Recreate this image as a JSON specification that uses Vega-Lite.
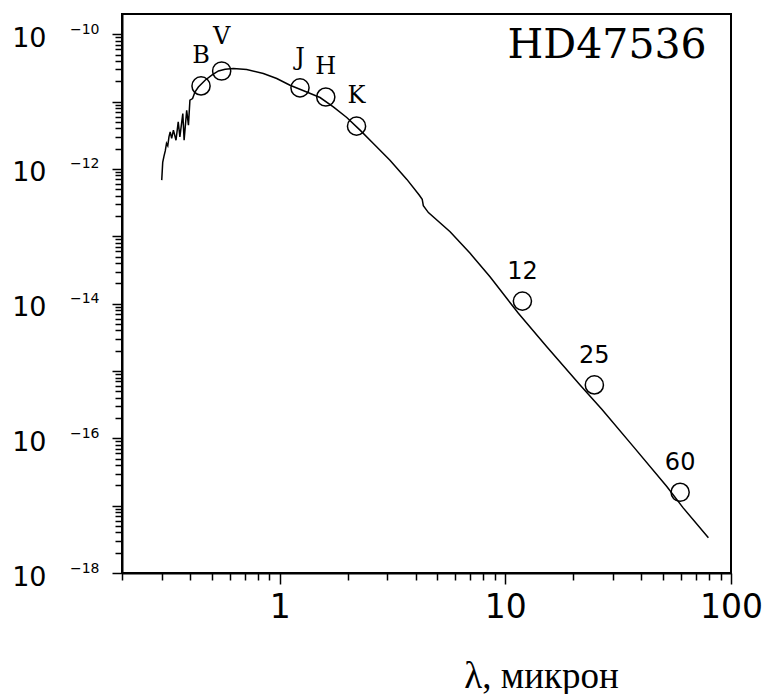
{
  "$schema": "https://vega.github.io/schema/vega-lite/v6.json",
  "autosize": {"type": "none"},
  "width": 609,
  "height": 559,
  "padding": {"left": 122, "top": 14, "right": 34, "bottom": 121},
  "background": "white",
  "config": {
    "view": {"stroke": "black", "strokeWidth": 2},
    "axis": {"grid": false, "tickColor": "black", "domainColor": "black", "labelColor": "black", "titleColor": "black", "labelOverlap": false, "labelFlush": false}
  },
  "datasets": {
    "model": [
      {"lambda": 0.300, "flux": 6.83e-13},
      {"lambda": 0.303, "flux": 1.25e-12},
      {"lambda": 0.307, "flux": 1.55e-12},
      {"lambda": 0.311, "flux": 1.85e-12},
      {"lambda": 0.315, "flux": 2.39e-12},
      {"lambda": 0.319, "flux": 2.2e-12},
      {"lambda": 0.323, "flux": 3.0e-12},
      {"lambda": 0.327, "flux": 3.55e-12},
      {"lambda": 0.332, "flux": 2.84e-12},
      {"lambda": 0.338, "flux": 3.77e-12},
      {"lambda": 0.347, "flux": 2.67e-12},
      {"lambda": 0.355, "flux": 5.0e-12},
      {"lambda": 0.361, "flux": 2.99e-12},
      {"lambda": 0.372, "flux": 6.65e-12},
      {"lambda": 0.377, "flux": 2.67e-12},
      {"lambda": 0.387, "flux": 7.45e-12},
      {"lambda": 0.394, "flux": 4.47e-12},
      {"lambda": 0.400, "flux": 1.05e-11},
      {"lambda": 0.411, "flux": 1.11e-11},
      {"lambda": 0.421, "flux": 1.39e-11},
      {"lambda": 0.436, "flux": 1.65e-11},
      {"lambda": 0.467, "flux": 2.08e-11},
      {"lambda": 0.500, "flux": 2.47e-11},
      {"lambda": 0.535, "flux": 2.85e-11},
      {"lambda": 0.573, "flux": 3.03e-11},
      {"lambda": 0.623, "flux": 3.10e-11},
      {"lambda": 0.714, "flux": 2.99e-11},
      {"lambda": 0.846, "flux": 2.61e-11},
      {"lambda": 0.970, "flux": 2.20e-11},
      {"lambda": 1.111, "flux": 1.75e-11},
      {"lambda": 1.317, "flux": 1.39e-11},
      {"lambda": 1.509, "flux": 1.15e-11},
      {"lambda": 1.728, "flux": 8.34e-12},
      {"lambda": 1.982, "flux": 5.81e-12},
      {"lambda": 2.27, "flux": 3.77e-12},
      {"lambda": 2.60, "flux": 2.39e-12},
      {"lambda": 3.08, "flux": 1.35e-12},
      {"lambda": 3.66, "flux": 7.0e-13},
      {"lambda": 4.15, "flux": 4.1e-13},
      {"lambda": 4.28, "flux": 3.55e-13},
      {"lambda": 4.33, "flux": 2.85e-13},
      {"lambda": 4.56, "flux": 2.25e-13},
      {"lambda": 5.69, "flux": 1.17e-13},
      {"lambda": 6.98, "flux": 5.58e-14},
      {"lambda": 8.55, "flux": 2.51e-14},
      {"lambda": 11.42, "flux": 7.18e-15},
      {"lambda": 15.26, "flux": 2.29e-15},
      {"lambda": 21.43, "flux": 6.19e-16},
      {"lambda": 26.76, "flux": 2.70e-16},
      {"lambda": 36.93, "flux": 7.53e-17},
      {"lambda": 51.94, "flux": 1.92e-17},
      {"lambda": 61.5, "flux": 9.19e-18},
      {"lambda": 79.4, "flux": 3.33e-18}
    ],
    "phot": [
      {"band": "B", "kind": "letter", "lambda": 0.448, "flux": 1.71e-11},
      {"band": "V", "kind": "top", "lambda": 0.553, "flux": 2.85e-11},
      {"band": "J", "kind": "letter", "lambda": 1.23, "flux": 1.60e-11},
      {"band": "H", "kind": "letter", "lambda": 1.60, "flux": 1.17e-11},
      {"band": "K", "kind": "letter", "lambda": 2.19, "flux": 4.32e-12},
      {"band": "12", "kind": "number", "lambda": 11.9, "flux": 1.09e-14},
      {"band": "25", "kind": "number", "lambda": 24.8, "flux": 6.2e-16},
      {"band": "60", "kind": "number", "lambda": 59.5, "flux": 1.58e-17}
    ]
  },
  "resolve": {"axis": {"x": "independent", "y": "independent"}},
  "layer": [
    {
      "data": {"name": "model"},
      "mark": {"type": "line", "color": "black", "strokeWidth": 1.5},
      "encoding": {
        "x": {"field": "lambda", "type": "quantitative",
          "scale": {"type": "log", "domain": [0.2, 100], "nice": false},
          "axis": {"orient": "bottom", "title": null, "labels": false, "tickSize": 7, "tickWidth": 1.5, "domain": true, "domainWidth": 2,
            "values": [0.2, 0.3, 0.4, 0.5, 0.6, 0.7, 0.8, 0.9, 2, 3, 4, 5, 6, 7, 8, 9, 20, 30, 40, 50, 60, 70, 80, 90]}},
        "y": {"field": "flux", "type": "quantitative",
          "scale": {"type": "log", "domain": [1e-18, 2e-10], "nice": false},
          "axis": {"orient": "left", "title": null, "labels": false, "tickSize": 7, "tickWidth": 1.5, "domain": true, "domainWidth": 2,
            "values": [2e-18, 3e-18, 4e-18, 5e-18, 6e-18, 7e-18, 8e-18, 9e-18,
              2e-17, 3e-17, 4e-17, 5e-17, 6e-17, 7e-17, 8e-17, 9e-17,
              2e-16, 3e-16, 4e-16, 5e-16, 6e-16, 7e-16, 8e-16, 9e-16,
              2e-15, 3e-15, 4e-15, 5e-15, 6e-15, 7e-15, 8e-15, 9e-15,
              2e-14, 3e-14, 4e-14, 5e-14, 6e-14, 7e-14, 8e-14, 9e-14,
              2e-13, 3e-13, 4e-13, 5e-13, 6e-13, 7e-13, 8e-13, 9e-13,
              2e-12, 3e-12, 4e-12, 5e-12, 6e-12, 7e-12, 8e-12, 9e-12,
              2e-11, 3e-11, 4e-11, 5e-11, 6e-11, 7e-11, 8e-11, 9e-11]}}
      }
    },
    {
      "data": {"name": "phot"},
      "mark": {"type": "point", "shape": "circle", "filled": false, "color": "black", "strokeWidth": 1.5, "size": 330, "opacity": 1},
      "encoding": {
        "x": {"field": "lambda", "type": "quantitative",
          "axis": {"orient": "bottom", "values": [1, 10, 100], "tickSize": 11, "tickWidth": 1.5, "domain": false,
            "labelExpr": "format(datum.value, 'd')", "labelFont": "DejaVu Sans", "labelFontSize": 33, "labelPadding": 7, "labelBaseline": "top", "labelAlign": "center",
            "title": "λ, микрон", "titleFont": "Liberation Serif", "titleFontSize": 37, "titleFontWeight": "normal",
            "titleX": 419, "titleY": 114, "titleAlign": "center", "titleBaseline": "alphabetic"}},
        "y": {"field": "flux", "type": "quantitative",
          "axis": {"orient": "left", "title": null, "values": [1e-18, 1e-17, 1e-16, 1e-15, 1e-14, 1e-13, 1e-12, 1e-11, 1e-10],
            "tickSize": 10, "tickWidth": 1.5, "domain": false,
            "labelExpr": "round(log(datum.value) / LN10) % 2 == 0 ? '10' : ''",
            "labelFont": "DejaVu Sans", "labelFontSize": 27, "labelPadding": 66, "labelAlign": "right", "labelBaseline": "middle", "labelOffset": 4}}
      }
    },
    {
      "data": {"name": "phot"},
      "transform": [{"filter": "datum.kind == 'letter'"}],
      "mark": {"type": "text", "font": "DejaVu Serif", "fontSize": 24, "color": "black", "dy": -30, "align": "center", "baseline": "middle"},
      "encoding": {
        "x": {"field": "lambda", "type": "quantitative", "axis": null},
        "y": {"field": "flux", "type": "quantitative",
          "axis": {"orient": "left", "title": null, "values": [1e-18, 1e-16, 1e-14, 1e-12, 1e-10], "ticks": false, "tickSize": 0, "domain": false,
            "labelExpr": "'−' + (-round(log(datum.value) / LN10))",
            "labelFont": "DejaVu Sans", "labelFontSize": 14, "labelPadding": 23, "labelAlign": "right", "labelBaseline": "middle", "labelOffset": -5}},
        "text": {"field": "band"}
      }
    },
    {
      "data": {"name": "phot"},
      "transform": [{"filter": "datum.kind == 'top'"}],
      "mark": {"type": "text", "font": "DejaVu Serif", "fontSize": 24, "color": "black", "dy": -34, "align": "center", "baseline": "middle"},
      "encoding": {
        "x": {"field": "lambda", "type": "quantitative", "axis": null},
        "y": {"field": "flux", "type": "quantitative", "axis": null},
        "text": {"field": "band"}
      }
    },
    {
      "data": {"name": "phot"},
      "transform": [{"filter": "datum.kind == 'number'"}],
      "mark": {"type": "text", "font": "DejaVu Sans", "fontSize": 24, "color": "black", "dy": -29, "align": "center", "baseline": "middle"},
      "encoding": {
        "x": {"field": "lambda", "type": "quantitative", "axis": null},
        "y": {"field": "flux", "type": "quantitative", "axis": null},
        "text": {"field": "band"}
      }
    },
    {
      "data": {"values": [{"name": "HD47536"}]},
      "mark": {"type": "text", "font": "DejaVu Serif", "fontSize": 41, "color": "black", "align": "right", "baseline": "alphabetic"},
      "encoding": {
        "x": {"datum": 78, "type": "quantitative", "axis": null},
        "y": {"datum": 4.4e-11, "type": "quantitative", "axis": null},
        "text": {"field": "name"}
      }
    }
  ]
}
